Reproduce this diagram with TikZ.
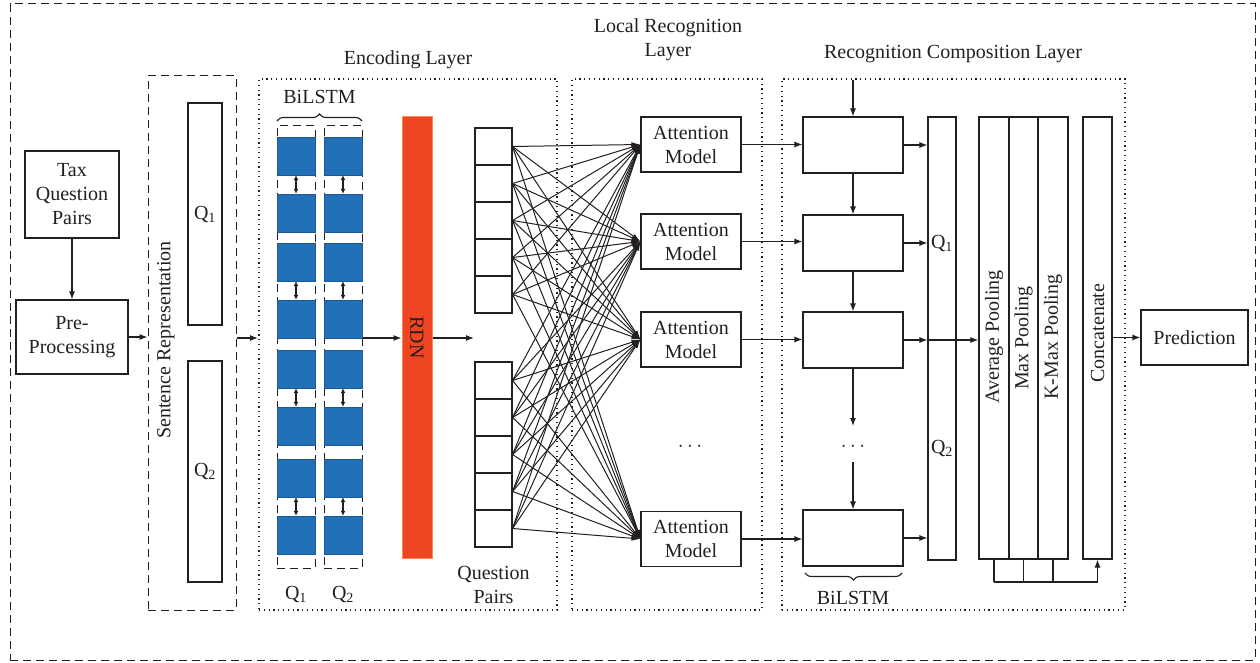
\documentclass[tikz,border=0pt]{standalone}
\usepackage{fontspec}
\setmainfont{Liberation Serif}
\usetikzlibrary{arrows.meta,decorations.pathreplacing}
\definecolor{lineblk}{RGB}{35,31,32}
\definecolor{encblue}{RGB}{34,112,184}
\definecolor{rdnred}{RGB}{239,69,35}
\definecolor{rdnedge}{RGB}{246,140,80}
\newcommand{\qsub}[1]{Q\textsubscript{#1}}
\begin{document}
\begin{tikzpicture}[x=1pt,y=-1pt,
  font=\fontsize{20}{24}\selectfont,
  every node/.style={text=lineblk},
  box/.style={draw=lineblk, line width=1.1pt, inner sep=0pt, align=center},
  dashbox/.style={draw=lineblk, line width=1pt, dash pattern=on 8pt off 5pt, inner sep=0pt},
  dotbox/.style={draw=lineblk, line width=1.2pt, dash pattern=on 1.2pt off 3.6pt, inner sep=0pt},
  arr/.style={draw=lineblk, line width=1.1pt, -{Latex[length=8pt,width=6pt]}},
  fan/.style={draw=lineblk, line width=1pt, -{Latex[length=9pt,width=5pt]}},
  dbl/.style={draw=lineblk, line width=1.1pt, {Latex[length=5pt,width=5pt]}-{Latex[length=5pt,width=5pt]}},
  bluesq/.style={fill=encblue, draw=encblue!80!black, line width=0.4pt, minimum width=38pt, minimum height=38pt, inner sep=0pt},
  encol/.style={dashbox, minimum width=38pt, minimum height=442pt},
  cell/.style={box, minimum width=37pt, minimum height=37pt},
  attbox/.style={box, minimum width=100pt, minimum height=55pt},
  rcbox/.style={box, minimum width=100pt, minimum height=56pt},
  tallbox/.style={box, minimum height=442pt},
  bracestyle/.style={draw=lineblk, line width=1.1pt, decorate, decoration={brace, amplitude=7pt}}
]
\useasboundingbox (0,0) rectangle (1260,663);

% outer and layer frames
\node[dashbox, minimum width=1245pt, minimum height=656pt] (outer) at (632.5,332) {};
\node[dashbox, minimum width=88pt, minimum height=534pt] (sr) at (192,343) {};
\node[dotbox, minimum width=298pt, minimum height=531pt] (enc) at (408,344.5) {};
\node[dotbox, minimum width=190pt, minimum height=531pt] (loc) at (667,344.5) {};
\node[dotbox, minimum width=343pt, minimum height=531pt] (rc) at (953.5,344.5) {};

% layer titles
\node (encT) at (408,60) {Encoding Layer};
\node[align=center] (locT) at (668,40) {Local Recognition\\Layer};
\node (rcT) at (953,54) {Recognition Composition Layer};

% input side
\node[box, minimum width=94pt, minimum height=87pt] (tqp) at (72,194.5) {Tax\\Question\\Pairs};
\node[box, minimum width=112pt, minimum height=74pt] (pre) at (72,337) {Pre-\\Processing};
\draw[arr] (tqp.south) -- (pre.north);
\draw[arr] (pre.east) -- (pre.east -| sr.west);

% sentence representation
\node[box, minimum width=34pt, minimum height=222pt] (srq1) at (205,214) {\qsub{1}};
\node[box, minimum width=34pt, minimum height=221pt] (srq2) at (205,471.5) {\qsub{2}};
\node[rotate=90] (srT) at (166,340) {Sentence Representation};
\coordinate (encin) at (258,338);
\draw[arr] (sr.east |- encin) -- (encin);

% encoding BiLSTM columns
\node[encol] (colA) at (296,347) {};
\node[encol] (colB) at (343,347) {};
\foreach \t [count=\i] in {137,194,243,300,350,407,459,516} {
  \node[bluesq] (ba\i) at (296,\t+19) {};
  \node[bluesq] (bb\i) at (343,\t+19) {};
}
\foreach \a/\b in {1/2,3/4,5/6,7/8} {
  \draw[dbl] (ba\a.south) -- (ba\b.north);
  \draw[dbl] (bb\a.south) -- (bb\b.north);
}
\draw[bracestyle] (277,121) -- (362,121);
\node (bilT) at (319.5,97) {BiLSTM};
\node (qa) at (296,594) {\qsub{1}};
\node (qb) at (343,594) {\qsub{2}};

% RDN
\node[fill=rdnred, draw=rdnedge, line width=1pt, minimum width=30pt, minimum height=441pt, inner sep=0pt] (rdn) at (417,337.5) {};
\node[rotate=-90, text=lineblk] (rdnT) at (417,337.5) {RDN};
\draw[arr] (363,338) -- (rdn.west |- 0,338);
\coordinate (rdnout) at (rdn.east |- 0,338);

% question pairs cells
\foreach \k in {1,...,5} {
  \node[cell] (u\k) at (493.5,128+37*\k-18.5) {};
  \node[cell] (l\k) at (493.5,362+37*\k-18.5) {};
}
\draw[arr] (rdnout) -- (474,338);
\node[align=center] (qpT) at (493.5,585) {Question\\Pairs};

% attention models
\node[attbox] (att1) at (691,144.5) {Attention\\Model};
\node[attbox] (att2) at (691,241.5) {Attention\\Model};
\node[attbox] (att3) at (691,339.5) {Attention\\Model};
\node[attbox] (att4) at (691,539) {Attention\\Model};
\node (dotsA) at (690,447) {$\cdots$};

\foreach \k in {1,...,5} {
  \foreach \j in {1,...,4} {
    \draw[fan] (u\k.east) -- (att\j.west);
    \draw[fan] (l\k.east) -- (att\j.west);
  }
}

% recognition composition BiLSTM
\node[rcbox] (r1) at (853,145) {};
\node[rcbox] (r2) at (853,243) {};
\node[rcbox] (r3) at (853,340) {};
\node[rcbox] (r4) at (853,538) {};
\node (dotsB) at (853,447) {$\cdots$};
\coordinate (rtop) at (853,80);
\coordinate (r3end) at (853,426);
\coordinate (r4start) at (853,462);
\draw[arr] (rtop) -- (r1.north);
\draw[arr] (r1.south) -- (r2.north);
\draw[arr] (r2.south) -- (r3.north);
\draw[arr] (r3.south) -- (r3end);
\draw[arr] (r4start) -- (r4.north);
\draw[bracestyle] (902,573) -- (805,573);
\node (bil2T) at (853,598) {BiLSTM};

\foreach \j in {1,...,4} {
  \draw[arr] (att\j.east) -- (att\j.east -| r\j.west);
}

% Q column
\node[tallbox, minimum width=28pt, minimum height=443pt] (qc) at (942,338.5) {};
\node (qc1) at (942,243) {\qsub{1}};
\node (qc2) at (942,448) {\qsub{2}};
\foreach \j in {1,...,4} {
  \draw[arr] (r\j.east) -- (r\j.east -| qc.west);
}

% pooling
\node[tallbox, minimum width=30pt] (p1) at (994,338) {};
\node[tallbox, minimum width=29pt] (p2) at (1023.5,338) {};
\node[tallbox, minimum width=30pt] (p3) at (1053,338) {};
\node[rotate=90] (p1T) at (994,337) {Average Pooling};
\node[rotate=90] (p2T) at (1023.5,338) {Max Pooling};
\node[rotate=90] (p3T) at (1053,337) {K-Max Pooling};
\draw[arr] (r3.east -| qc.west) -- (r3.east -| p1.west);

% concatenate
\node[tallbox, minimum width=29pt] (cc) at (1097.5,338) {};
\node[rotate=90] (ccT) at (1097.5,333) {Concatenate};
\coordinate (jb) at (994,582);
\draw[draw=lineblk, line width=1.1pt] (p1.south) -- (jb);
\draw[draw=lineblk, line width=1.1pt] (p2.south) -- (p2.south |- jb);
\draw[draw=lineblk, line width=1.1pt] (p3.south) -- (p3.south |- jb);
\draw[arr] (jb) -- (cc.south |- jb) -- (cc.south);

% prediction
\node[box, minimum width=107pt, minimum height=55pt] (pred) at (1194.5,337.5) {Prediction};
\draw[arr] (cc.east |- pred.west) -- (pred.west);
\end{tikzpicture}
\end{document}
